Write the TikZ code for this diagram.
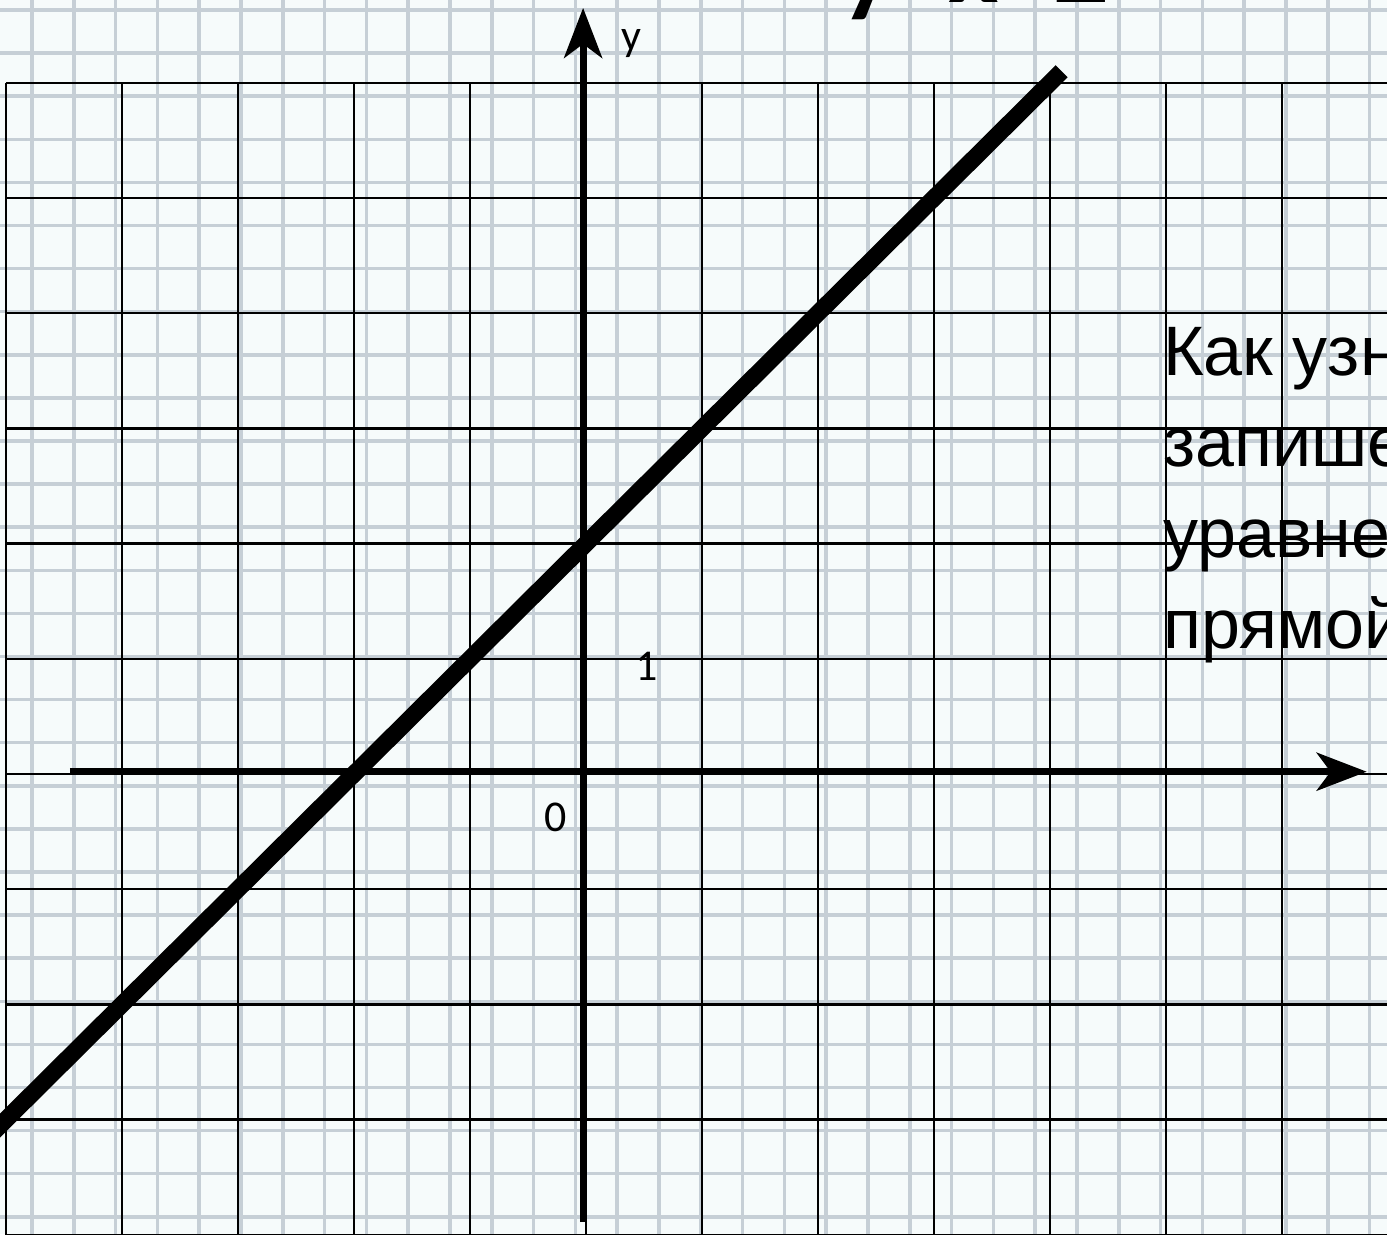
\documentclass[tikz,border=0pt]{standalone}
\usepackage{fontspec}
\setmainfont{Carlito}
\newfontfamily\slidefont{Liberation Sans}
\usetikzlibrary{arrows.meta}
\definecolor{paperbg}{RGB}{246,251,251}
\definecolor{paperline}{RGB}{198,207,214}
\tikzset{paper lines/.style={line width=3.5pt,color=paperline},
	cell lines/.style={line width=2.4pt,color=black},
	axis/.style={line width=7pt,-{Stealth[length=50pt,width=38pt,inset=14pt]}},
	graph line/.style={line width=17pt,color=black},
	tick label/.style={font=\fontsize{44}{44}\selectfont,inner sep=0pt},
	question/.style={font=\slidefont\fontsize{70}{70}\selectfont,inner sep=0pt,anchor=base west}}

\begin{document}
\begin{tikzpicture}[x=116pt,y=115.2pt]
	\useasboundingbox (-5.0517,-3.9931) rectangle (6.9052,6.7188);
	\clip (-5.0517,-3.9931) rectangle (6.9052,6.7188);
	\fill[paperbg] (-5.0517,-3.9931) rectangle (6.9052,6.7188); %paper
	\begin{scope}[shift={(-5.0517,6.7188)},x=1pt,y=-1pt]
		\foreach \i in {0,...,32} \draw[paper lines] ({32+41.8*\i},0) -- ++(0,1234);
		\foreach \j in {0,...,28} \draw[paper lines] (0,{10+43.1*\j}) -- ++(1387,0);
	\end{scope}
	\draw[cell lines,step={(1,1)}] (-5,-4.5) grid (7.5,6); %grid

	\coordinate (xl) at (-4.45,0.02);
	\coordinate (xr) at (6.73,0.02);
	\coordinate (yb) at (-0.025,-3.89);
	\coordinate (yt) at (-0.025,6.65);
	\coordinate (a) at (-5.6,-3.6);
	\coordinate (b) at (4.1,6.1);

	\draw[graph line] (a) -- (b);
	\draw[axis] (xl) -- (xr);
	\draw[axis] (yb) -- (yt);

	\node[tick label] (ylab) at (0.388,6.345) {y};
	\node[tick label] (one) at (0.526,0.9375) {1};
	\node[tick label] (zero) at (-0.259,-0.373) {0};

	\node[font=\bfseries\fontsize{110}{110}\selectfont,anchor=base west,inner sep=0pt] (title) at (2.2,6.693) {y=x+2};

	\node[question] (q1) at (4.974,3.4635) {Как узнать,};
	\node[question] (q2) at (4.974,2.6736) {запишем};
	\node[question] (q3) at (4.974,1.8837) {уравнение};
	\node[question] (q4) at (4.974,1.0937) {прямой};
\end{tikzpicture}
\end{document}
